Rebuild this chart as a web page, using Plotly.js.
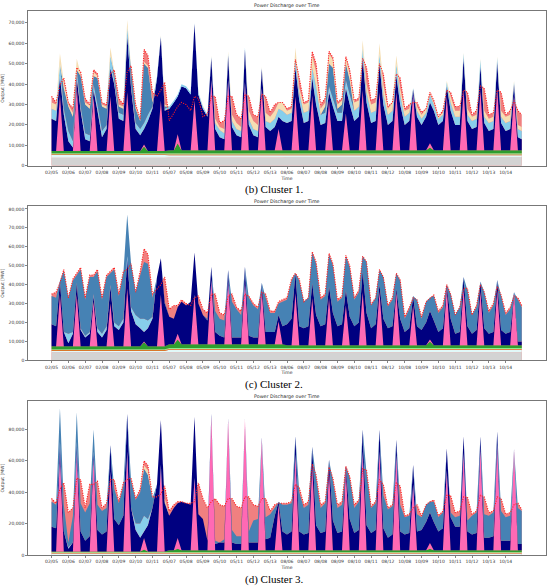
<!DOCTYPE html>
<html>
<head>
<meta charset="utf-8">
<script src="https://cdn.plot.ly/plotly-3.0.1.min.js"></script>
<style>html,body{margin:0;padding:0;background:#fff}#chart{width:550px;height:586px}</style>
</head>
<body>
<div id="chart"></div>
<script>
// ---- categories / tick labels ----
const dayLabels = ['02/05','02/06','02/07','02/08','02/09','02/10','02/11',
  '05/07','05/08','05/09','05/10','05/11','05/12','05/13',
  '08/06','08/07','08/08','08/09','08/10','08/11','08/12',
  '10/08','10/09','10/10','10/11','10/12','10/13','10/14'];
const sampleHours = [0, 6.5, 12, 17.5];   // readings per day, plus final hour 23 of last day
const chartTitle = 'Power Discharge over Time';
const captions = ['(b) Cluster 1.', '(c) Cluster 2.', '(d) Cluster 3.'];

// ---- values in GW (thousands of MW), one value per sampled hour ----
// Cluster 1
const c1GrayWeekGW   = [3.9, 4.0, 4.3, 4.3];
const c1AzureWeekGW  = [1.3, 1.1, 0.8, 0.8];
const c1OrangeWeekGW = [0.45, 0.45, 0.45, 0.45];
const c1LGreenWeekGW = [0.5, 0.5, 0.5, 0.5];
const c1GreenGW = [
1,1,1,1, 1,1,1,1, 1,1,1,1, 1,1,1,1, 1,1,1,1, 1,1,3.3,1, 1,1,1,1,
1.5,1.5,4.9,1.5, 1.5,1.5,1.5,1.5, 1.5,1.5,1.5,1.5, 1.5,1.5,1.5,1.5, 1.5,1.5,1.5,1.5, 1.5,1.5,1.5,1.5, 1.5,1.5,1.5,1.5,
1.5,1.5,1.5,1.5, 1.5,1.5,1.5,1.5, 1.5,1.5,1.5,1.5, 1.5,1.5,1.5,1.5, 1.5,1.5,1.5,1.5, 1.5,1.5,1.5,1.5, 1.5,1.5,1.5,1.5,
1.5,1.5,1.5,1.5, 1.5,1.5,2.9,1.5, 1.5,1.5,1.5,1.5, 1.5,1.5,1.5,1.5, 1.5,1.5,1.5,1.5, 1.5,1.5,1.5,1.5, 1.5,1.5,1.5,1.5, 1.5];
const c1PinkGW = [
0,0,27.4,0, 0,0,31.8,0, 0,0,26.8,0, 0,0,26.8,0, 0,0,28.8,0, 0,0,1.0,0, 0,0,24.8,0,
0,0,4.5,0, 0,0,24.4,0, 0,0,34.4,0, 0,0,34.4,0, 0,0,33.4,0, 0,0,30.4,0, 0,0,10.4,0,
0,0,26.4,0, 0,0,26.9,0, 0,0,24.4,0, 0,0,18,0, 0,0,29.4,0, 0,0,28.4,0, 0,0,28.4,0,
0,0,27.9,0, 0,0,2,0, 0,0,26.4,0, 0,0,29.4,0, 0,0,29.4,0, 0,0,30.4,0, 0,0,27.4,0, 0];
const c1NavyGW = [
15.8,14.8,9.4,17.8, 4.8,1.8,4,19.8, 5.8,4.8,3,19.8, 6.8,10.8,14,32.8, 15.8,14.8,28,30.8, 10.8,7.8,7.5,14.8, 20.8,35.8,31,19.8,
20.4,23.4,18.5,31.4, 30.4,27.4,37.5,27.4, 20.4,16.4,11,10.4, 6.4,5.4,12,11.4, 7.4,6.4,16,12.4, 7.4,6.4,9.5,11.4, 9.4,11.4,6,14.4,
13.4,14.4,14,24.4, 13.4,14.4,8.5,22.4, 12.4,13.4,4,21.4, 14.4,14.4,12.4,22.4, 14.4,16.4,15.5,23.4, 13.4,14.4,14,22.4, 12.4,14.4,8,22.4,
12.4,14.4,2,16.4, 12.4,16.4,20,19.4, 12.4,14.4,5,19.4, 12.4,12.4,16,14.4, 10.4,11.4,12,13.4, 9.4,10.4,13,13.4, 9.4,10.4,5,6.4, 5.4];
const c1LightGW = [
5,5,6,3, 5,3,4,2, 3,3,3,3, 3,2,6,2, 3,3,4,2, 3,3,3,3, 1,1,0.5,1,
1,1,1,1, 1,1,0.5,1, 1,1,0.5,3, 3.5,3,1,3, 3,3,1,3, 3,3,0.5,3, 4,4,4,5,
4,4,5,4, 5,5,5,9, 5,5,3,4, 4,4,4,5, 5,5,5.5,5, 5,5,5,5, 5,5,6,5,
4,4,0.5,3, 3,2,4,3, 3,3,2,4, 4,4,2,3, 4,4,3,3, 4,4,2,3, 4,4,1,4, 4];
const c1SteelGW = [
0,0,0,10, 12,12,0,15, 14,13,4,13, 12,8,0,3, 3,3,0,7, 7,4,29,23, 2,0,0,1,
0,0,0,0, 0,0,0,0, 0,0,0,0, 0,0,0,0, 0,0,0,0, 0,0,0,0, 0,0,0,0,
0,0,0,0, 0,0,0,0, 0,3,11,15, 2,4,8,7, 0,0,0,0, 0,0,0,0, 0,0,0,0,
0,0,0,0, 0,0,0,0, 0,0,0,0, 0,0,0,0, 0,0,0,0, 0,0,0,0, 0,0,0,0, 0];
const c1WheatGW = [
3,3,5,3, 1,2,5.5,1, 1,1.5,2,1, 1,1,4,1, 1,1,3.5,1, 1,0.5,1,1, 1,0,0.5,1,
0,0,0,0, 0,0,0,0, 0.5,0,0.5,2, 1.5,2,1,3, 3,2,0,4, 4,3,0.5,4, 3,4,3,4,
2,2,5,2, 4,4,6,7, 3,2,5,4, 2,2,3,3, 4,3,3.5,4, 4,4,5,5, 3,4,4,3,
3,2,0,2, 2,2,0.5,1, 1,1,0.5,3, 3,3,0.5,3, 2,2,0.5,3, 2,2,0.5,3, 3,3,0.5,2, 2];
const c1DemandGW = [
34,31,39.5,43, 31,28,48,46, 33,30,47,45, 31,30,45,47, 33,30,46,49, 30,23,57,54, 36,34,37,41,
22,26,29,31, 30,27,34,33, 24,25.5,34,34, 21,22,34,34, 25,23,35,34, 25,24,35,34, 26,30,31,31,
28,29,52,43, 31,32,56,50, 30,33,56,53, 31,33,53.5,47, 32,33,52.6,48, 32,33,50,45, 29,31,45,43,
28,30,31,31, 26,28,36,32, 24,27,37,36, 29,29,37,36, 25,27,39,38, 25,26,37,36, 25,27,32,27, 25];

// Cluster 2
const c2GrayWeekGW   = [4.2, 4.2, 4.2, 4.2];
const c2AzureWeekGW  = [0.75, 1.35, 1.35, 1.35];
const c2OrangeWeekGW = [0.45, 0.45, 0.45, 0.45];
const c2LGreenWeekGW = [0.5, 0.5, 0.5, 0.5];
const c2GreenGW = [
1.5,1.5,1.5,1.5, 1.5,1.5,1.5,1.5, 1.5,1.5,1.5,1.5, 1.5,1.5,1.5,1.5, 1.5,1.5,1.5,1.5, 1.5,1.5,3.6,1.5, 1.5,1.5,1.5,1.5,
2,2,4.5,2, 2,2,2,2, 2,2,2,2, 2,2,2,2, 2,2,2,2, 2,2,2,2, 2,2,2,2,
1.5,1.5,1.5,1.5, 1.5,1.5,1.5,1.5, 1.5,1.5,1.5,1.5, 1.5,1.5,1.5,1.5, 1.5,1.5,1.5,1.5, 1.5,1.5,1.5,1.5, 1.5,1.5,1.5,1.5,
1.5,1.5,1.5,1.5, 1.5,1.5,3.5,1.5, 1.5,1.5,1.5,1.5, 1.5,1.5,1.5,1.5, 1.5,1.5,1.5,1.5, 1.5,1.5,1.5,1.5, 1.5,1.5,1.5,1.5, 1.5];
const c2PinkGW = [
0,0,27.2,0, 0,0,27.2,0, 0,0,23.6,0, 0,0,22.6,0, 0,0,30.6,0, 0,0,0.5,0, 0,0,27.2,0,
0,0,3,0, 0,0,26.1,0, 0,0,34,0, 0,0,33.1,0, 0,0,33.1,0, 0,0,28.5,0, 0,0,12,0,
0,0,27.4,0, 0,0,24.8,0, 0,0,24.8,0, 0,0,21,0, 0,0,28,0, 0,0,28.3,0, 0,0,28.3,0,
0,0,21,0, 0,0,1,0, 0,0,30,0, 0,0,30,0, 0,0,28.3,0, 0,0,29,0, 0,0,27.4,0, 0];
const c2NavyGW = [
11.6,10.6,6.9,7.6, 1.6,6.6,6.1,8.6, 4.6,6.6,3,7.6, 4.6,8.6,9,10.6, 8.6,12.6,16,18.6, 11.6,9.6,5,9.6, 14.6,36.6,19.4,22.6,
14.5,13.5,14,22.5, 20.5,22.5,22.4,21.5, 15.5,12.5,7,6.5, 4.5,3.5,6.1,3.5, 3.5,3.5,7.9,4.5, 3.5,3.5,3.7,6.5, 6.5,6.5,3.5,9.5,
11,14,10.6,10, 9,10,7.9,16, 10,11,6.2,17, 10,11,8,15, 10,12,11,17, 9,11,3.7,14, 9,10,1.7,14,
7,9,4.7,10, 8,12,15,13, 7,9,1.5,14, 6,7,6,10, 6,8,5.3,9, 6,7,5.5,8, 6,7,0.6,2, 2];
const c2LightGW = [
0,0,0,0, 5,1,0.3,1, 1,1,1,2, 2,2,1,2, 2,2,1,2, 5,5,7,4, 1,0,0,0,
0,0,0,0, 0,0,0,0, 0,0,0,0, 0,0,0,0, 0,0,0,0, 0,0,0,0, 0,0,0,0,
0,0,0,0, 0,0,0,0, 0,0,0,0, 0,0,0,0, 0,0,0,0, 0,0,0,0, 0,0,0,0,
0,0,0,0, 0,0,0,0, 0,0,0,0, 0,0,0,0, 0,0,0,0, 0,0,0,0, 0,0,0,0, 0];
const c2SteelGW = [
15,15,0.5,32, 19,27,4,31, 19,29,9,30, 18,26,6,28, 16,24,22,23, 12,23,30,30, 10,0,0,1,
0,0,0,0, 0,0,0,0, 0,1,0,11, 9,9,0,19, 15,12,0,20, 17,15,0.3,18, 10,10,6,13,
13,20,0,24, 14,15,16.3,27, 14,15,17,25, 13,14,18,26, 14,16,8,27, 12,14,7.7,22, 11.5,14,8,20,
7,10,0.3,14, 6,11,7,13, 10,11,0.5,13, 10,13,0,19, 10,12,0,19, 11,14,0,18, 10,12,0,22, 18];
const c2WheatGW = [
0,0,0,0, 0,0,0,0, 0,0,0,0, 0,0,0,0, 0,0,0,0, 0,0,0,0, 0,0,0,0,
0,0,0,0, 0,0,0,0, 0,0,0,0, 0,0,0,0, 0,0,0,0, 0,0,0,0, 0,0,0,0,
0,0,0,0, 0,0,0,0, 0,0,0,0, 0,0,0,0, 0,0,0,0, 0,0,0,0, 0,0,0,0,
0,0,0,0, 0,0,0,0, 0,0,0,0, 0,0,0,0, 0,0,0,0, 0,0,0,0, 0,0,0,0, 0];
const c2DemandGW = [
35,36,41,48, 33,43,46,49, 33,45,45,48, 33,45,47,49, 35,47,48,51, 36,47,59,56, 35,38,40,44,
27,29,29,32, 30,29,33,34, 27,25,35,35, 25,24,34,35, 28,26,35,34, 30,28,36,35, 26,26,31,32,
33,43,46,43, 31,33,57.4,52, 33,35,56.5,51, 32,34,55.6,50, 33,37,55,52, 29.5,33,48,44, 29,33,46,42.5,
23,28,33,32, 23,31,33,34.5, 26,29,40,35, 24,28,38,38, 24,29,40,36, 26,30,39,34.5, 25,28,34,33, 29];

// Cluster 3
const c3GrayWeekGW   = [0, 0, 0, 0];
const c3AzureWeekGW  = [1.0, 1.0, 1.0, 1.0];
const c3OrangeWeekGW = [0.5, 0.5, 0.5, 0.5];
const c3LGreenWeekGW = [0.4, 0.4, 0.4, 0.4];
const c3GreenGW = [
0.4,0.4,0.4,0.4, 0.4,0.4,0.4,0.4, 0.4,0.4,0.4,0.4, 0.4,0.4,0.4,0.4, 0.4,0.4,0.4,0.4, 0.4,0.4,1.6,0.4, 0.4,0.4,0.4,0.4,
1.1,1.1,2.1,1.1, 1.1,1.1,1.1,1.1, 1.1,1.1,1.1,1.1, 1.1,1.1,1.1,1.1, 1.1,1.1,1.1,1.1, 1.1,1.1,1.1,1.1, 1.1,1.1,1.1,1.1,
1.1,1.1,1.1,1.1, 1.1,1.1,1.1,1.1, 1.1,1.1,1.1,1.1, 1.1,1.1,1.1,1.1, 1.1,1.1,1.1,1.1, 1.1,1.1,1.1,1.1, 1.1,1.1,1.1,1.1,
1.1,1.1,1.1,1.1, 1.1,1.1,2.1,1.1, 1.1,1.1,1.1,1.1, 1.1,1.1,1.1,1.1, 1.1,1.1,1.1,1.1, 1.1,1.1,1.1,1.1, 1.1,1.1,1.1,1.1, 1.1];
const c3PinkGW = [
0,0,61.7,0, 0,0,62.7,0, 0,0,59.5,0, 0,0,50.7,0, 0,0,63.7,0, 0,0,7.3,0, 0,0,55.2,0,
0,0,6.8,0, 0,0,46,0, 0,0,85,0, 0,0,83,0, 0,0,83.5,0, 0,0,71,0, 0,0,29,0,
0,0,61,0, 0,0,54.5,0, 0,0,51,0, 0,0,51,0, 0,0,63,0, 0,0,63,0, 0,0,61,0,
0,0,42,0, 0,0,3.6,0, 0,0,51,0, 0,0,62,0, 0,0,65,0, 0,0,67,0, 0,0,64,0, 0];
const c3NavyGW = [
15.7,14.7,8,12.7, 1.7,5.7,7,12.7, 6.7,9.7,4.2,13.7, 10.7,12.7,17,20.7, 16.7,22.7,24,27.7, 13.7,8.7,4.2,16.7, 27.7,42.7,28.5,30.7,
22,27,22.2,31, 30,29,39,23, 20,6,2,4, 5,5,1,5, 4,4,0.5,5, 5,5,1,7, 8,22,2,12,
10,12,11.6,12, 10,11,11.5,16, 11,12,6.7,19, 11,12,2.5,20, 11,13,14,16, 11,13,14,14, 8,10,9.5,12,
10,11,12.5,12, 13,18,19.4,18, 12,14,14,21, 15,15,10.6,12, 10,11,7.6,8, 8,9,8.8,6, 6,6,0.5,4, 4];
const c3LightGW = [
0,0,0,0, 1,0,0,0, 0,0,0,0, 0,0,0,0, 0,0,0,0, 4,9,10,4, 0,0,0,0,
0,0,0,0, 0,0,0,0, 0,0,0,0, 0,0,0,0, 0,0,0,0, 0,0,0,0, 0,0,0,0,
0,0,0,0, 0,0,0,0, 0,0,0,0, 0,0,0,0, 0,0,0,0, 0,0,0,0, 0,0,0,0,
0,0,0,0, 0,0,0,0, 0,0,0,0, 0,0,0,0, 0,0,0,0, 0,0,0,0, 0,0,0,0, 0];
const c3SteelGW = [
16,15,21.5,17, 3,17,19,18, 18,21,14,16, 15,15,0,19, 14,19,0,17, 15,20,30,28, 6,0,0,1,
0,0,0,0, 0,0,0,0, 0,0,0,2, 0,2,0,8, 5,5,0,7, 14,15,0,14, 15,5,0,17,
19,18,0,25, 17,18,0,30, 16,18,0,25, 16,17,0,26, 16,18,0,33, 16,17,0,21, 18,18,0,17,
11,11,0,11, 8,11,7,13, 9,10,0,3, 6,7,0,7, 12,13,0,15, 14,15,0,19, 15,16,0,23, 21];
const c3WheatGW = [
0,0,0,0, 0,0,0,0, 0,0,0,0, 0,0,0,0, 0,0,0,0, 0,0,2,3, 0,0,0,2,
0,0,0,0, 0,0,0,0, 0,0,0,0, 0,0,0,0, 0,0,0,0, 0,0,0,0, 0,0,0,0,
0,0,0,0, 0,0,0,0, 0,0,0,0, 0,0,0,0, 0,0,0,0, 0,0,0,0, 0,0,0,0,
0,0,0,0, 0,0,0,0, 0,0,0,0, 0,0,0,0, 0,0,0,0, 0,0,0,0, 0,0,0,0, 0];
const c3DemandGW = [
36,33,42,46, 27,30,49,48, 30,45,45,47, 30,33,48,48, 34,46,48,49, 36,42,60,57, 37,37,39,44,
28,32,34,34, 33,33,34,46, 36,30,34,36, 32,31,36,36, 31,30,37,37, 32,31,36,36, 28,32,33,33,
33,34,45,43, 32,34,58,51, 32,34,56,49, 32,34,56.5,50, 32,35,55,54, 31,34,48,45, 30,32,46,44,
25,26,30,32, 25,32,34,35, 25,28,38,38, 27,28,37,37, 26,28,38,37, 27,28,37,36, 26,27,32,33, 29];

// ---- build ----
const hours = [];
dayLabels.forEach((_, d) => sampleHours.forEach(h => hours.push(d * 24 + h)));
hours.push((dayLabels.length - 1) * 24 + 23);
const toMW = a => a.map(v => v * 1000);
const weekly = w => hours.map(h => w[Math.min(3, Math.floor(h / 168))] * 1000);

const clusters = [
  {gray:c1GrayWeekGW, azure:c1AzureWeekGW, orange:c1OrangeWeekGW, lgreen:c1LGreenWeekGW, green:c1GreenGW,
   pink:c1PinkGW, navy:c1NavyGW, light:c1LightGW, steel:c1SteelGW, wheat:c1WheatGW, demand:c1DemandGW,
   ymax:75800, dtick:10000, dom:[0.7156, 1.0]},
  {gray:c2GrayWeekGW, azure:c2AzureWeekGW, orange:c2OrangeWeekGW, lgreen:c2LGreenWeekGW, green:c2GreenGW,
   pink:c2PinkGW, navy:c2NavyGW, light:c2LightGW, steel:c2SteelGW, wheat:c2WheatGW, demand:c2DemandGW,
   ymax:81400, dtick:10000, dom:[0.3579, 0.6410]},
  {gray:c3GrayWeekGW, azure:c3AzureWeekGW, orange:c3OrangeWeekGW, lgreen:c3LGreenWeekGW, green:c3GreenGW,
   pink:c3PinkGW, navy:c3NavyGW, light:c3LightGW, steel:c3SteelGW, wheat:c3WheatGW, demand:c3DemandGW,
   ymax:97900, dtick:20000, dom:[0.0, 0.2825]}
];

const traces = [];
const layout = {
  width: 550, height: 586,
  margin: {l: 28, r: 3.5, t: 11, b: 31},
  paper_bgcolor: '#fff', plot_bgcolor: '#fff',
  showlegend: false, hovermode: false,
  font: {family: 'DejaVu Sans, sans-serif', size: 4.5, color: '#333'},
  annotations: []
};
const titleY = [1.0092, 0.6502, 0.2917];
const capY = [0.671, 0.313, -0.0454];

clusters.forEach((c, i) => {
  const n = i + 1;
  const xa = n === 1 ? 'x' : 'x' + n;
  const ya = n === 1 ? 'y' : 'y' + n;
  const sg = 'stack' + n;
  // demand shortfall area (visible only where demand exceeds the stacked supply)
  traces.push({x: hours, y: toMW(c.demand), xaxis: xa, yaxis: ya, mode: 'none',
    fill: 'tozeroy', fillcolor: '#f08080', hoverinfo: 'skip'});
  const layers = [
    [weekly(c.gray), '#d3d3d3'],
    [weekly(c.azure), '#e2f8f8'],
    [weekly(c.orange), '#d9772b'],
    [weekly(c.lgreen), '#90ee90'],
    [toMW(c.green), '#2e9e2e'],
    [toMW(c.pink), '#ff69b4'],
    [toMW(c.navy), '#000080'],
    [toMW(c.light), '#87ceeb'],
    [toMW(c.steel), '#4682b4'],
    [toMW(c.wheat), '#f5deb3']
  ];
  layers.forEach(([y, col], j) => {
    traces.push({x: hours, y: y, xaxis: xa, yaxis: ya, stackgroup: sg, mode: 'none',
      fill: j === 0 ? 'tozeroy' : 'tonexty', fillcolor: col, line: {width: 0}, hoverinfo: 'skip'});
  });
  traces.push({x: hours, y: toMW(c.demand), xaxis: xa, yaxis: ya, mode: 'lines',
    line: {color: '#ff2020', width: 1.1, dash: '1.1px,1.3px'}, hoverinfo: 'skip'});

  layout['xaxis' + (n === 1 ? '' : n)] = {
    domain: [0, 1], anchor: ya, range: [-33.6, 705.6],
    tickmode: 'array', tickvals: dayLabels.map((_, d) => d * 24), ticktext: dayLabels,
    ticks: 'outside', ticklen: 2, tickwidth: 0.6, tickcolor: '#333',
    showline: true, linecolor: '#555', linewidth: 0.8, mirror: true,
    showgrid: false, zeroline: false,
    tickfont: {size: 4.5, color: '#333'},
    title: {text: 'Time', font: {size: 4.5, color: '#333'}, standoff: 2}
  };
  layout['yaxis' + (n === 1 ? '' : n)] = {
    domain: c.dom, anchor: xa, range: [0, c.ymax], tick0: 0, dtick: c.dtick, tickformat: ',d',
    ticks: 'outside', ticklen: 2, tickwidth: 0.6, tickcolor: '#333',
    showline: true, linecolor: '#555', linewidth: 0.8, mirror: true,
    showgrid: false, zeroline: false,
    tickfont: {size: 4.5, color: '#333'},
    title: {text: 'Output [MW]', font: {size: 4.5, color: '#333'}, standoff: 3}
  };
  layout.annotations.push({text: chartTitle, xref: 'paper', yref: 'paper', x: 0.5, y: titleY[i],
    xanchor: 'center', yanchor: 'middle', showarrow: false, font: {size: 4.8, color: '#222'}});
  layout.annotations.push({text: captions[i], xref: 'paper', yref: 'paper', x: 0.4754, y: capY[i],
    xanchor: 'center', yanchor: 'middle', showarrow: false,
    font: {family: 'Liberation Serif, serif', size: 11, color: '#000'}});
});

Plotly.newPlot('chart', traces, layout, {staticPlot: true, displayModeBar: false});
</script>
</body>
</html>
